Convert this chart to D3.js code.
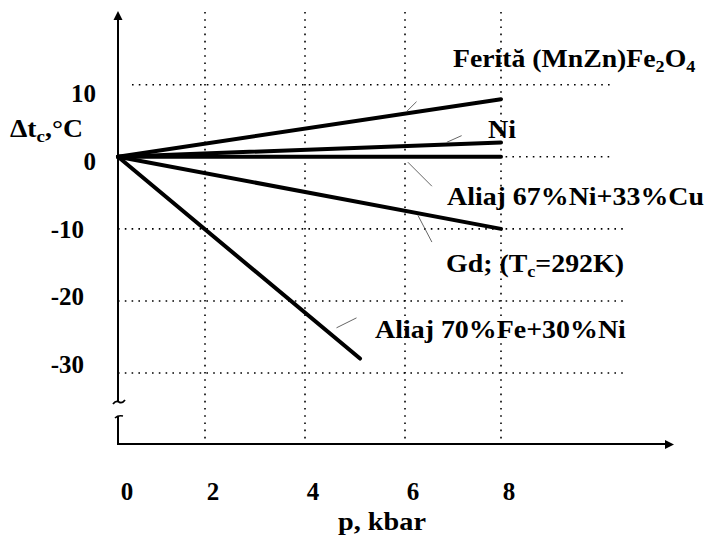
<!DOCTYPE html>
<html>
<head>
<meta charset="utf-8">
<script src="https://cdn.jsdelivr.net/npm/d3@7"></script>
<style>
  body { margin: 0; background: #fff; }
</style>
</head>
<body>
<svg id="chart" width="706" height="539"></svg>
<script>
// pressure ticks (kbar) and temperature ticks (°C)
const xTicks = [0, 2, 4, 6, 8];
const yTicks = [10, 0, -10, -20, -30];

// each material: straight line from origin to its end point
const materials = ["Ferită", "Ni", "Aliaj 67%Ni+33%Cu", "Gd", "Aliaj 70%Fe+30%Ni"];
const endP  = [8, 8, 8, 8, 5.1];
const endDt = [8, 2, 0, -10, -28];

// leader lines from label to curve, in data units
const leadP1  = [6.03, 6.87, 6.06, 6.27, 4.63];
const leadDt1 = [6.26, 2.01, -0.75, -8.13, -23.73];
const leadP2  = [6.24, 7.18, 6.56, 6.56, 5.03];
const leadDt2 = [7.65, 2.94, -4.08, -11.83, -22.35];

// series labels; parts: [text, isSubscript]
const labelParts = [
    [["Ferită (MnZn)Fe", 0], ["2", 1], ["O", 0], ["4", 1]],
    [["Ni", 0]],
    [["Aliaj 67%Ni+33%Cu", 0]],
    [["Gd; (T", 0], ["c", 1], ["=292K)", 0]],
    [["Aliaj 70%Fe+30%Ni", 0]]
];

const FONT = "'Liberation Serif'";

let svg = d3.select("#chart");

// the original x axis is not quite evenly spaced, so map each tick
let xScale = d3.scaleLinear().domain(xTicks).range([118, 205, 305, 405, 501]);
let yScale = d3.scaleLinear().domain([-30, 10]).range([373, 84.75]);
// tick labels in the picture drift slightly from the grid
let yLabelScale = d3.scaleLinear().domain([-30, 10]).range([373, 102]);

let grid = svg.append("g").attr("stroke", "#000").attr("fill", "none");

// vertical dotted grid
grid.selectAll(".vgrid")
    .data(xTicks.filter(d => d > 0))
    .enter().append("line")
    .attr("x1", d => xScale(d)).attr("x2", d => xScale(d))
    .attr("y1", 12).attr("y2", 444)
    .attr("stroke-width", 1.6)
    .attr("stroke-dasharray", "1.6,5.6");

// horizontal dotted grid
grid.selectAll(".hgrid")
    .data(yTicks)
    .enter().append("line")
    .attr("x1", d => d > 0 ? 132 : 118)
    .attr("x2", d => d >= 0 ? 610 : 625)
    .attr("y1", d => yScale(d)).attr("y2", d => yScale(d))
    .attr("stroke-width", 1.6)
    .attr("stroke-dasharray", "1.6,5.2");

// axes
let axes = svg.append("g").attr("stroke", "#000").attr("fill", "none").attr("stroke-width", 2);
axes.append("line").attr("x1", 118).attr("x2", 118).attr("y1", 18).attr("y2", 402);
axes.append("line").attr("x1", 118).attr("x2", 118).attr("y1", 416).attr("y2", 445);
axes.append("line").attr("x1", 117).attr("x2", 667).attr("y1", 444).attr("y2", 444);
// axis break marks
axes.append("path").attr("stroke-width", 1.8).attr("d", "M113,404 q3,-4 6,-2 t6,-2");
axes.append("path").attr("stroke-width", 1.6).attr("d", "M115,418 q3,-3 8,-2");
// arrow heads
svg.append("path").attr("d", "M118,11 L113.5,20 L122.5,20 Z").attr("fill", "#000");
svg.append("path").attr("d", "M674,444.5 L665,440 L665,449 Z").attr("fill", "#000");

// material lines
svg.append("g").selectAll("line")
    .data(materials)
    .enter().append("line")
    .attr("x1", xScale(0)).attr("y1", yScale(0))
    .attr("x2", (d, i) => xScale(endP[i]))
    .attr("y2", (d, i) => yScale(endDt[i]))
    .attr("stroke", "#000")
    .attr("stroke-width", 4)
    .attr("stroke-linecap", "round");

// thin leader lines
svg.append("g").selectAll("line")
    .data(materials)
    .enter().append("line")
    .attr("x1", (d, i) => xScale(leadP1[i])).attr("y1", (d, i) => yScale(leadDt1[i]))
    .attr("x2", (d, i) => xScale(leadP2[i])).attr("y2", (d, i) => yScale(leadDt2[i]))
    .attr("stroke", "#555")
    .attr("stroke-width", 0.9);

function txt(x, y, size) {
    return svg.append("text")
        .attr("x", x).attr("y", y)
        .style("font-family", FONT)
        .style("font-weight", "bold")
        .style("font-size", size + "px")
        .attr("fill", "#000");
}

// the scanned lettering is wider than Times; stretch each text to its width
function fit(t, x, width) {
    let w = t.node().getBBox().width;
    let s = width / w;
    t.attr("transform", "translate(" + x + ",0) scale(" + s + ",1) translate(" + (-x) + ",0)");
}

// tick labels
xTicks.forEach(d => {
    txt(xScale(d) + (d === 0 ? 9 : 8), 500, 25)
        .attr("text-anchor", "middle")
        .text(d);
});

yTicks.forEach(d => {
    txt(d < 0 ? 84 : 96, yLabelScale(d), 25)
        .attr("text-anchor", "end")
        .text(d);
});

// axis titles
let yTitle = txt(10, 137, 25);
yTitle.append("tspan").text("Δt");
yTitle.append("tspan").style("font-size", "17px").attr("dy", 5).text("c");
yTitle.append("tspan").attr("dy", -5).text(",°C");
fit(yTitle, 10, 73);

let xTitle = txt(338, 530, 26).text("p, kbar");
fit(xTitle, 338, 88);

const labelPos = [[453, 67], [488, 138], [447, 205], [446, 272], [375, 338]];
const labelWidth = [243, 28, 257, 178, 251];

labelParts.forEach((parts, i) => {
    let t = txt(labelPos[i][0], labelPos[i][1], 26);
    let prevSub = false;
    parts.forEach(p => {
        let dy = p[1] ? 5 : (prevSub ? -5 : 0);
        t.append("tspan")
            .attr("dy", dy)
            .style("font-size", (p[1] ? 17 : 26) + "px")
            .text(p[0]);
        prevSub = !!p[1];
    });
    fit(t, labelPos[i][0], labelWidth[i]);
});
</script>
</body>
</html>
